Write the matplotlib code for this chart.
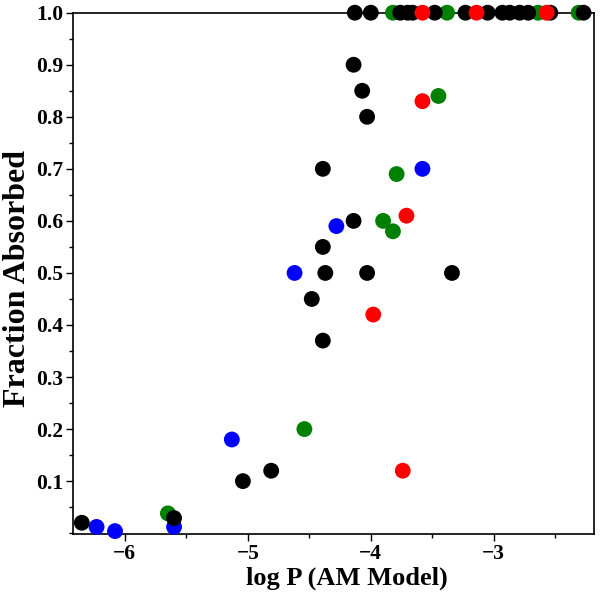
import matplotlib
matplotlib.use("Agg")
import matplotlib.pyplot as plt
from matplotlib.ticker import MultipleLocator

# Data (log P, fraction absorbed) per series colour
green_x = [-3.82, -3.38, -2.64, -2.31, -3.45, -3.79, -3.90, -3.82, -4.54, -5.65]
green_y = [1.0, 1.0, 1.0, 1.0, 0.84, 0.69, 0.60, 0.58, 0.20, 0.038]

blue_x = [-3.58, -4.28, -4.62, -5.13, -6.23, -6.08, -5.60]
blue_y = [0.70, 0.59, 0.50, 0.18, 0.012, 0.004, 0.012]

black_x = [-4.13, -4.00, -3.76, -3.70, -3.66, -3.48, -3.23, -3.05, -2.93, -2.87, -2.79, -2.72, -2.54, -2.27,
           -4.14, -4.07, -4.03, -4.39, -4.14, -4.39, -4.37, -4.03, -3.34, -4.48, -4.39, -4.81, -5.04, -6.35, -5.60]
black_y = [1.0, 1.0, 1.0, 1.0, 1.0, 1.0, 1.0, 1.0, 1.0, 1.0, 1.0, 1.0, 1.0, 1.0,
           0.90, 0.85, 0.80, 0.70, 0.60, 0.55, 0.50, 0.50, 0.50, 0.45, 0.37, 0.12, 0.10, 0.02, 0.029]

red_x = [-3.58, -3.14, -2.57, -3.58, -3.71, -3.98, -3.74]
red_y = [1.0, 1.0, 1.0, 0.83, 0.61, 0.42, 0.12]

yticks = [0.1, 0.2, 0.3, 0.4, 0.5, 0.6, 0.7, 0.8, 0.9, 1.0]
xticks = [-6, -5, -4, -3]

plt.rcParams['font.family'] = ['Liberation Serif', 'DejaVu Serif']
plt.rcParams['font.weight'] = 'bold'

fig = plt.figure(figsize=(6.0, 6.05), dpi=100)
ax = fig.add_axes([0.122, 0.117, 0.868, 0.862])

ms = 130
for xs, ys, c in [(green_x, green_y, '#008000'), (blue_x, blue_y, '#0000ff'),
                  (black_x, black_y, '#000000'), (red_x, red_y, '#ff0000')]:
    ax.scatter(xs, ys, s=ms, c=c, edgecolors='none', clip_on=False, zorder=3)

ax.set_xlim(-6.42, -2.185)
ax.set_ylim(-0.002, 1.0)
ax.set_xticks(xticks)
ax.set_xticklabels(['\u2212%d' % abs(v) for v in xticks])
ax.set_yticks(yticks)
ax.set_yticklabels(['%.1f' % v for v in yticks])
ax.xaxis.set_minor_locator(MultipleLocator(0.5))
ax.yaxis.set_minor_locator(MultipleLocator(0.05))
ax.tick_params(which='major', direction='out', length=5, width=1, labelsize=15.5, pad=2)
ax.tick_params(which='minor', direction='out', length=3, width=1)
for lab in ax.get_xticklabels() + ax.get_yticklabels():
    lab.set_fontweight('bold')
for sp in ax.spines.values():
    sp.set_linewidth(1.2)

ax.set_xlabel('log P (AM Model)', fontsize=19, fontweight='bold')
ax.set_ylabel('Fraction Absorbed', fontsize=23, fontweight='bold')
ax.xaxis.set_label_coords(0.525, -0.063)
ax.yaxis.set_label_coords(-0.08, 0.49)

fig.savefig('out.png', dpi=100)
